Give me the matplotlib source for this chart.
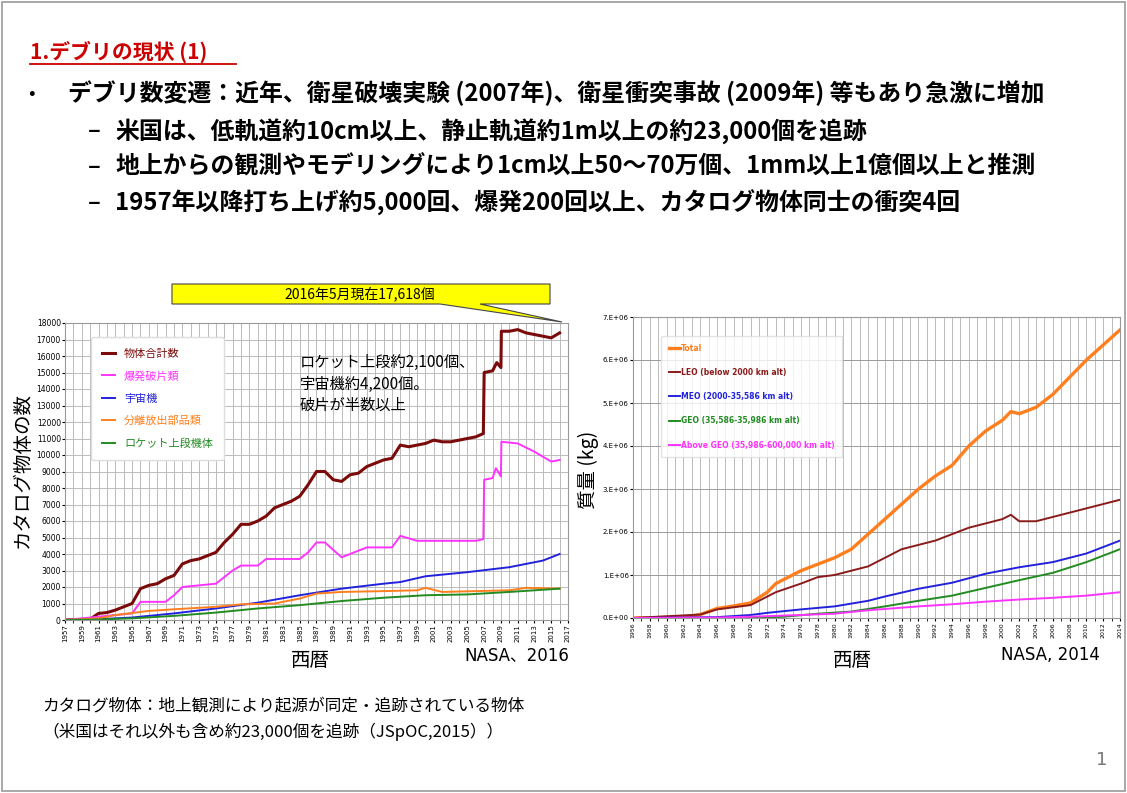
import matplotlib
matplotlib.use("Agg")
import matplotlib.pyplot as plt
from matplotlib.patches import Polygon, Rectangle
from matplotlib.lines import Line2D

plt.rcParams['font.family'] = ['Noto Sans CJK JP', 'DejaVu Sans']

# ---------- left chart data (counts) ----------
tot_x = [1957,1960,1961,1962,1963,1964,1965,1966,1967,1968,1969,1970,1971,1972,1973,1974,1975,1976,1977,1978,1979,1980,1981,1982,1983,1984,1985,1986,1987,1988,1989,1990,1991,1992,1993,1994,1995,1996,1997,1998,1999,2000,2001,2002,2003,2004,2005,2006,2006.9,2007.0,2008,2008.5,2009.0,2009.05,2010,2011,2012,2013,2014,2015,2016]
tot_y = [0,50,400,450,600,800,1000,1900,2100,2200,2500,2700,3400,3600,3700,3900,4100,4700,5200,5800,5800,6000,6300,6800,7000,7200,7500,8200,9000,9000,8500,8400,8800,8900,9300,9500,9700,9800,10600,10500,10600,10700,10900,10800,10800,10900,11000,11100,11300,15000,15100,15600,15300,17500,17500,17600,17400,17300,17200,17100,17400]
frag_x = [1957,1961,1965,1966,1969,1970,1971,1975,1977,1978,1980,1981,1985,1986,1987,1988,1990,1991,1993,1996,1997,1999,2006,2006.9,2007.0,2008,2008.4,2009.0,2009.05,2011,2013,2015,2016]
frag_y = [0,200,400,1100,1100,1500,2000,2200,3000,3300,3300,3700,3700,4100,4700,4700,3800,4000,4400,4400,5100,4800,4800,4900,8500,8600,9200,8700,10800,10700,10200,9600,9700]
sc_x = [1957,1961,1965,1970,1975,1980,1985,1990,1995,1997,2000,2005,2010,2014,2016]
sc_y = [0,50,150,400,700,1050,1500,1900,2200,2300,2650,2900,3200,3600,4000]
mr_x = [1957,1961,1963,1967,1970,1975,1978,1982,1985,1987,1990,1995,1999,2000,2002,2010,2012,2016]
mr_y = [0,100,300,550,650,800,950,1000,1300,1600,1700,1750,1800,1950,1700,1800,1950,1900]
rb_x = [1957,1961,1965,1970,1975,1980,1985,1990,1995,2000,2005,2010,2016]
rb_y = [0,30,100,250,450,700,900,1150,1350,1500,1550,1700,1900]
left_labels = ['物体合計数', '爆発破片類', '宇宙機', '分離放出部品類', 'ロケット上段機体']
left_colors = ['#7b0a0a', '#ff33ff', '#2222dd', '#ff7f1e', '#228b22']

# ---------- right chart data (mass, 1E6 kg) ----------
t_x = [1956,1962,1964,1966,1968,1970,1972,1973,1976,1980,1982,1984,1986,1988,1990,1992,1994,1996,1998,2000,2001,2002,2004,2006,2008,2010,2012,2014]
t_y = [0,0.02,0.08,0.22,0.28,0.35,0.6,0.8,1.1,1.4,1.6,1.95,2.3,2.65,3.0,3.3,3.55,4.0,4.35,4.6,4.8,4.75,4.9,5.2,5.6,6.0,6.35,6.7]
leo_x = [1956,1964,1966,1970,1973,1976,1978,1980,1984,1986,1988,1992,1996,2000,2001,2002,2004,2008,2012,2014]
leo_y = [0,0.08,0.2,0.3,0.6,0.8,0.95,1.0,1.2,1.4,1.6,1.8,2.1,2.3,2.4,2.25,2.25,2.45,2.65,2.75]
meo_x = [1956,1966,1970,1972,1976,1980,1984,1986,1990,1994,1998,2002,2006,2010,2014]
meo_y = [0,0.02,0.07,0.12,0.2,0.27,0.4,0.5,0.68,0.82,1.03,1.18,1.3,1.5,1.8]
geo_x = [1956,1970,1974,1978,1982,1986,1990,1994,1998,2002,2006,2010,2014]
geo_y = [0,0.0,0.03,0.1,0.15,0.27,0.4,0.52,0.7,0.88,1.05,1.3,1.6]
ag_x = [1956,1966,1970,1976,1980,1984,1990,1994,1998,2002,2006,2010,2014]
ag_y = [0,0.01,0.03,0.07,0.1,0.18,0.27,0.32,0.38,0.43,0.47,0.52,0.6]
right_labels = ['Total', 'LEO (below 2000 km alt)', 'MEO (2000-35,586 km alt)',
                'GEO (35,586-35,986 km alt)', 'Above GEO (35,986-600,000 km alt)']
right_colors = ['#ff7f1e', '#8b1a1a', '#2222dd', '#228b22', '#ff33ff']

W, H = 1127, 793
fig = plt.figure(figsize=(W/100, H/100), dpi=100)

def fx(px): return px / W
def fy(py): return 1 - py / H

fig.patches.append(Rectangle((0.002, 0.003), 0.996, 0.994, transform=fig.transFigure,
                             fill=False, edgecolor='#999999', lw=1.2))

fig.text(fx(30), fy(52), '1.デブリの現状 (1)', color='#cc0000', fontsize=15, fontweight='bold', va='center')
fig.add_artist(Line2D([fx(30), fx(236)], [fy(64), fy(64)], color='#cc0000', lw=1.3))
fig.text(fx(28), fy(93), '•', fontsize=14, va='center')
fig.text(fx(68), fy(93), 'デブリ数変遷：近年、衛星破壊実験 (2007年)、衛星衝突事故 (2009年) 等もあり急激に増加',
         fontsize=17.2, fontweight='bold', va='center')
subs = ['米国は、低軌道約10cm以上、静止軌道約1m以上の約23,000個を追跡',
        '地上からの観測やモデリングにより1cm以上50～70万個、1mm以上1億個以上と推測',
        '1957年以降打ち上げ約5,000回、爆発200回以上、カタログ物体同士の衝突4回']
for i, s in enumerate(subs):
    y = 131 + i * 36
    fig.text(fx(88), fy(y), '–', fontsize=17, fontweight='bold', va='center')
    fig.text(fx(115), fy(y), s, fontsize=17.2, fontweight='bold', va='center')

# ---------- left chart ----------
axL = fig.add_axes([fx(65), fy(620), fx(568) - fx(65), fy(323) - fy(620)])
for xs, ys, c, lab, lw in [(tot_x, tot_y, left_colors[0], left_labels[0], 2.2),
                           (frag_x, frag_y, left_colors[1], left_labels[1], 1.4),
                           (sc_x, sc_y, left_colors[2], left_labels[2], 1.4),
                           (mr_x, mr_y, left_colors[3], left_labels[3], 1.4),
                           (rb_x, rb_y, left_colors[4], left_labels[4], 1.4)]:
    axL.plot(xs, ys, color=c, lw=lw, label=lab)
axL.set_xlim(1957, 2017)
axL.set_ylim(0, 18000)
axL.set_xticks(range(1957, 2018, 2))
axL.set_xticklabels([str(v) for v in range(1957, 2018, 2)], rotation=90, fontsize=5, family='DejaVu Sans')
axL.set_yticks(range(0, 18001, 1000))
axL.set_yticklabels([str(v) for v in range(0, 18001, 1000)], fontsize=5.5, family='DejaVu Sans')
axL.set_xticks(range(1957, 2018, 1), minor=True)
axL.grid(True, which='both', color='#bbbbbb', lw=0.7)
axL.tick_params(length=2, pad=1)
for s in axL.spines.values():
    s.set_color('#999999')
leg = axL.legend(loc='upper left', bbox_to_anchor=(0.04, 0.97), fontsize=8, frameon=True,
                 handlelength=1.2, labelspacing=1.1, borderpad=1.0)
leg.get_frame().set_edgecolor('#dddddd')
leg.get_frame().set_alpha(1)
for t, c in zip(leg.get_texts(), left_colors):
    t.set_color(c)
fig.text(fx(300), fy(362), 'ロケット上段約2,100個、', fontsize=11, va='center')
fig.text(fx(300), fy(384), '宇宙機約4,200個。', fontsize=11, va='center')
fig.text(fx(300), fy(405), '破片が半数以上', fontsize=11, va='center')
fig.text(fx(22), fy(470), 'カタログ物体の数', rotation=90, fontsize=14, ha='center', va='center')
fig.text(fx(310), fy(661), '西暦', fontsize=14, ha='center', va='center')
fig.text(fx(517), fy(655), 'NASA、2016', fontsize=12, ha='center', va='center', family=['DejaVu Sans', 'Noto Sans CJK JP'])

fig.patches.append(Polygon([(fx(172), fy(284)), (fx(550), fy(284)), (fx(550), fy(304)),
                            (fx(480), fy(304)), (fx(562), fy(322)), (fx(440), fy(304)),
                            (fx(172), fy(304))], closed=True, transform=fig.transFigure,
                           facecolor='#ffff00', edgecolor='#444444', lw=0.8))
fig.text(fx(360), fy(294), '2016年5月現在17,618個', fontsize=10, ha='center', va='center')

# ---------- right chart ----------
axR = fig.add_axes([fx(633), fy(618), fx(1120) - fx(633), fy(317) - fy(618)])
for xs, ys, c, lab, lw in [(t_x, t_y, right_colors[0], right_labels[0], 2.4),
                           (leo_x, leo_y, right_colors[1], right_labels[1], 1.4),
                           (meo_x, meo_y, right_colors[2], right_labels[2], 1.4),
                           (geo_x, geo_y, right_colors[3], right_labels[3], 1.4),
                           (ag_x, ag_y, right_colors[4], right_labels[4], 1.4)]:
    axR.plot(xs, [v * 1e6 for v in ys], color=c, lw=lw, label=lab)
axR.set_xlim(1956, 2014)
axR.set_ylim(0, 7e6)
axR.set_xticks(range(1956, 2015, 2))
axR.set_xticklabels([str(v) for v in range(1956, 2015, 2)], rotation=90, fontsize=4.5, family='DejaVu Sans')
axR.set_yticks([i * 1e6 for i in range(8)])
axR.set_yticklabels([f'{i}.E+06' if i else '0.E+00' for i in range(8)], fontsize=5, family='DejaVu Sans')
axR.set_xticks(range(1956, 2015, 1), minor=True)
axR.grid(True, which='major', axis='y', color='#999999', lw=0.7)
axR.grid(True, which='both', axis='x', color='#bbbbbb', lw=0.7)
axR.tick_params(length=2, pad=1)
for s in axR.spines.values():
    s.set_color('#999999')
legR = axR.legend(loc='upper left', bbox_to_anchor=(0.05, 0.95), frameon=True,
                  handlelength=1.5, handletextpad=0.1, labelspacing=2.0, borderpad=1.0,
                  prop={'family': 'DejaVu Sans', 'weight': 'bold', 'size': 5.5})
legR.get_frame().set_edgecolor('#dddddd')
for t, c in zip(legR.get_texts(), right_colors):
    t.set_color(c)
fig.text(fx(588), fy(470), '質量 (kg)', rotation=90, fontsize=14, ha='center', va='center')
fig.text(fx(852), fy(660), '西暦', fontsize=14, ha='center', va='center')
fig.text(fx(1050), fy(655), 'NASA, 2014', fontsize=12, ha='center', va='center', family='DejaVu Sans')

fig.text(fx(42), fy(706), 'カタログ物体：地上観測により起源が同定・追跡されている物体', fontsize=12, va='center')
fig.text(fx(42), fy(732), '（米国はそれ以外も含め約23,000個を追跡（JSpOC,2015））', fontsize=12, va='center')
fig.text(fx(1102), fy(760), '1', fontsize=13, color='#777777', ha='center', va='center', family='DejaVu Sans')

fig.savefig('out.png', dpi=100)
